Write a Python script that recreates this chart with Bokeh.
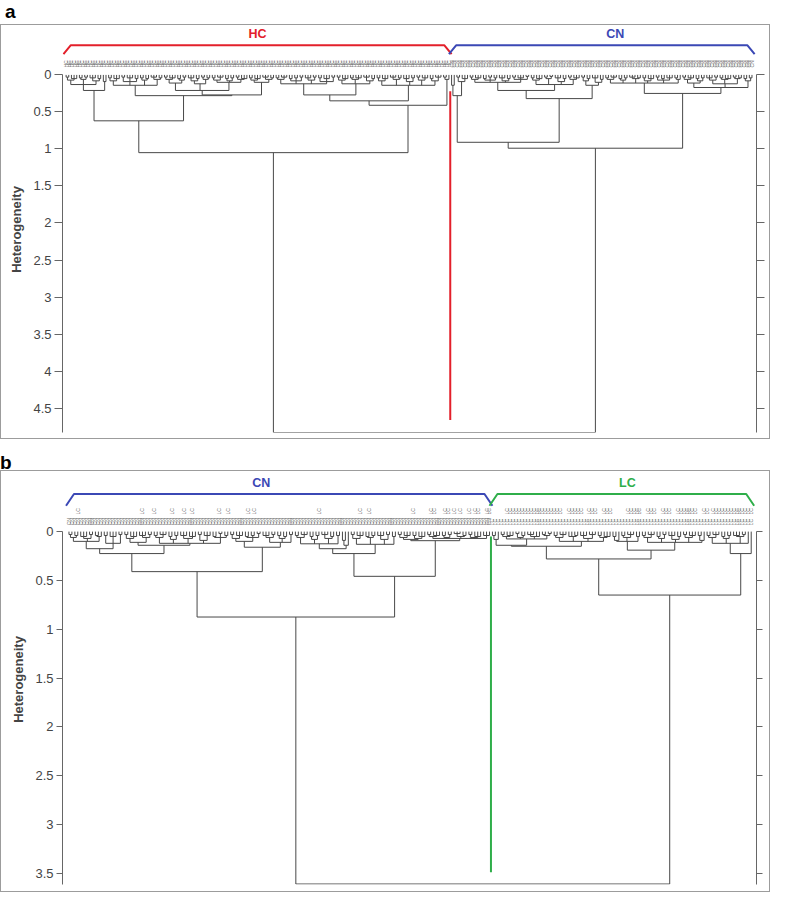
import re
import math
from bokeh.plotting import figure
from bokeh.models import Range1d, LinearAxis, FixedTicker, ColumnDataSource, Div
from bokeh.layouts import column
from bokeh.core.properties import value
from bokeh.embed import file_html
from bokeh.resources import INLINE

# ---------------- data: panel a (HC vs CN) ----------------
# sub-clusters written as Newick strings: x = leaf, number after ")" = heterogeneity of the merge
A1 = "(((x,x)0.03,(x,x,x)0.05)0.07,((x,x)0.04,(x,x)0.03)0.06,((x,x,x)0.04,(x,x)0.05)0.08)0.13"
A2 = "(x,x)0.09"
B1 = "(((x,x)0.04,(x,x,x)0.05)0.08,((x,x)0.03,(x,x,x)0.04,(x,x)0.05)0.09,((x,x)0.04,(x,x)0.05)0.07,((x,x,x)0.03,(x,x)0.04)0.06)0.14"
B2a = "((((x,x)0.03,(x,x,x)0.04)0.06,((x,x)0.05,(x,x)0.03)0.07)0.11,(((x,x,x)0.04,(x,x)0.05)0.08,((x,x)0.03,(x,x)0.04)0.06)0.12,(((x,x)0.04,(x,x,x)0.03)0.07,((x,x)0.05,(x,x)0.04)0.08,((x,x)0.03,(x,x,x)0.05)0.06)0.10)0.21"
B2b = "(((x,x)0.04,(x,x,x)0.05)0.07,((x,x,x)0.03,(x,x)0.04)0.06)0.10"
C1a = "(((x,x)0.04,(x,x,x)0.03)0.06,((x,x)0.05,(x,x)0.04,(x,x)0.03)0.08,((x,x,x)0.04,(x,x)0.03)0.07,((x,x)0.04,(x,x,x)0.05,(x,x)0.03)0.09)0.12"
C1b = "(((x,x)0.03,(x,x,x)0.05)0.07,((x,x)0.04,(x,x,x)0.04)0.06,((x,x,x)0.03,(x,x)0.05)0.08)0.12"
C2 = "(((x,x)0.04,(x,x,x)0.05)0.08,((x,x,x)0.03,(x,x)0.04)0.06,((x,x,x)0.05,(x,x)0.04)0.09,((x,x)0.03,(x,x,x)0.04)0.07,((x,x)0.05,(x,x,x)0.03)0.08)0.14"
C3 = "((x,x)0.03,x)0.06"
D = "((x,x)0.14,((x,x)0.03,(x,x,x)0.05)0.09)0.28"
E1a = "(((x,x)0.03,(x,x,x)0.04)0.06,((x,x)0.05,(x,x)0.03,(x,x)0.04)0.07,((x,x,x)0.04,(x,x)0.05)0.08,((x,x)0.03,(x,x,x)0.04,(x,x)0.02)0.06)0.10"
E1b = "(((x,x)0.04,(x,x,x)0.05)0.07,((x,x)0.03,(x,x)0.02)0.05,((x,x,x)0.04,(x,x)0.05)0.09,((x,x)0.03,(x,x,x)0.04)0.06)0.13"
E2 = "(((x,x)0.03,(x,x)0.05)0.08,((x,x,x)0.04,(x,x)0.06)0.10)0.14"
F1 = "(((x,x)0.04,(x,x,x)0.03)0.06,((x,x)0.05,(x,x)0.04)0.07,((x,x,x)0.03,(x,x)0.04)0.05,((x,x)0.04,(x,x,x)0.05)0.08,((x,x)0.03,(x,x)0.05,(x,x,x)0.04)0.07,((x,x)0.04,x)0.06)0.11"
F2 = "((((x,x)0.03,(x,x,x)0.04)0.06,((x,x)0.05,(x,x)0.04)0.08)0.11,(((x,x,x)0.04,(x,x)0.03)0.07,((x,x)0.04,(x,x,x)0.05)0.06,((x,x)0.03,(x,x)0.04)0.05)0.12,((x,x)0.05,(x,x)0.04)0.08)0.17"

HC_TREE = f"((({A1},{A2})0.21,({B1},({B2a},{B2b})0.27)0.28)0.62,((({C1a},{C1b})0.27,{C2})0.35,{C3})0.41)1.05"
CN_A_TREE = f"(({D},(({E1a},{E1b})0.21,{E2})0.32)0.91,({F1},{F2})0.25)0.99"
ROOT_A = 4.83
TREE_A = f"({HC_TREE},{CN_A_TREE}){ROOT_A}"

groups_a = ["HC", "CN"]
colors_a = ["#e3202b", "#3b48b5"]
label_x_a = [72.0, 206.6]
cut_a = [0.22, 4.66]          # red separator, top/bottom heterogeneity
ticks_a = [0, 0.5, 1, 1.5, 2, 2.5, 3, 3.5, 4, 4.5]
tick_labels_a = ["0", "0.5", "1", "1.5", "2", "2.5", "3", "3.5", "4", "4.5"]

# ---------------- data: panel b (CN vs LC) ----------------
G1a = "(((x,x)0.03,(x,x)0.04)0.06,((x,x,x)0.05,(x,x)0.03)0.07,((x,x)0.04,x)0.05)0.10"
G1b = "((x,x)0.04,(x,x,x)0.05,(x,x)0.03)0.12"
G2a = "(((x,x)0.03,(x,x,x)0.05)0.07,((x,x,x)0.04,(x,x)0.03)0.06)0.11"
G2b = "(((x,x)0.04,(x,x,x)0.03)0.06,((x,x)0.05,(x,x)0.04)0.08,((x,x,x)0.04,(x,x,x)0.05)0.07,((x,x)0.03,(x,x,x)0.04)0.09,((x,x)0.05,(x,x)0.02,(x,x)0.04)0.06)0.12"
H1 = "(((x,x)0.03,(x,x,x)0.04)0.07,((x,x)0.05,(x,x)0.04,(x,x)0.02)0.06)0.10"
H2 = "(((x,x,x)0.04,(x,x)0.03)0.06,((x,x)0.04,(x,x)0.05)0.07,(x,x)0.03)0.11"
I1a = "(((x,x)0.04,(x,x,x)0.03)0.06,((x,x)0.05,(x,x)0.04)0.08,((x,x,x)0.03,(x,x)0.05)0.07,(x,x)0.04)0.125"
I1b = "((x,x)0.09,x)0.14"
I2 = "(((x,x)0.03,(x,x,x)0.04)0.07,((x,x)0.05,(x,x)0.04)0.06,((x,x,x)0.04,(x,x)0.03)0.08,(x,x)0.05)0.13"
J1 = "(((x,x)0.03,(x,x,x)0.04)0.06,((x,x)0.04,(x,x,x)0.05)0.07)0.08"
J2 = "(((x,x)0.03,(x,x,x)0.04)0.05,((x,x)0.04,(x,x)0.03)0.06,((x,x,x)0.02,(x,x)0.04)0.05,((x,x)0.03,(x,x,x)0.05)0.06,(x,x,x)0.04)0.07"
K1a = "((x,x)0.04,x)0.08"
K1b = "(((x,x)0.03,(x,x,x)0.04)0.05,((x,x)0.02,(x,x)0.04)0.06,((x,x,x)0.03,(x,x)0.05)0.05,((x,x)0.03,(x,x)0.02)0.04)0.075"
K2 = "(((x,x)0.04,(x,x,x)0.03)0.06,((x,x)0.05,(x,x)0.04)0.05,((x,x,x)0.04,(x,x,x)0.03)0.07,((x,x)0.04,(x,x,x)0.05)0.06)0.10"
L1 = "(((x,x)0.05,x)0.09,((x,x)0.04,(x,x,x)0.03)0.06,(x,x)0.05)0.10"
L2 = "(((x,x)0.04,(x,x,x)0.03)0.06,((x,x)0.05,(x,x)0.03)0.07,((x,x,x)0.04,(x,x)0.05)0.08,((x,x)0.03,(x,x,x)0.04)0.06,((x,x)0.04,x)0.09)0.11"
M = "(((x,x)0.04,(x,x,x)0.03)0.06,((x,x)0.05,(x,x)0.04)0.07,((x,x,x)0.04,(x,x)0.03)0.05,x)0.12"

CN_B_TREE = (f"(((({G1a},{G1b})0.175,({G2a},{G2b})0.14)0.225,({H1},{H2})0.16)0.41,"
             f"((({I1a},{I1b})0.175,{I2})0.225,({J1},{J2})0.093)0.458)0.875")
LC_TREE = f"(((({K1a},{K1b})0.14,{K2})0.15,({L1},{L2})0.19)0.28,({M},x)0.225)0.65"
ROOT_B = 3.61
TREE_B = f"({CN_B_TREE},{LC_TREE}){ROOT_B}"

groups_b = ["CN", "LC"]
colors_b = ["#3b48b5", "#2fae4a"]
label_x_b = [65.4, 189.9]
cut_b = [0.05, 3.49]
ticks_b = [0, 0.5, 1, 1.5, 2, 2.5, 3, 3.5]
tick_labels_b = ["0", "0.5", "1", "1.5", "2", "2.5", "3", "3.5"]
# CN leaves (by position) carrying a second "LC" mark, and LC leaf ranges carrying it
lc_marks_cn = [3, 25, 29, 35, 39, 42, 51, 54, 61, 63, 85, 99, 102, 117, 123, 124, 128, 129,
               131, 133, 136, 138, 139, 142, 143]
lc_marks_lc = [(5, 23), (26, 30), (33, 35), (38, 40), (46, 50), (53, 55), (58, 60),
               (63, 69), (72, 73), (75, 88)]


# ---------------- helpers ----------------
def parse(s):
    pos = 0

    def node():
        nonlocal pos
        if s[pos] == "(":
            pos += 1
            kids = [node()]
            while s[pos] == ",":
                pos += 1
                kids.append(node())
            pos += 1  # ')'
            m = re.match(r"[0-9.]+", s[pos:])
            pos += len(m.group())
            return (float(m.group()), kids)
        pos += 1
        return None

    return node()


def count(t):
    if t is None:
        return 1
    return sum(count(k) for k in t[1])


def layout(t, counter, segs):
    if t is None:
        x = counter[0]
        counter[0] += 1
        return x, 0.0
    h, kids = t
    xs = []
    for k in kids:
        kx, kh = layout(k, counter, segs)
        segs.append((kx, kh, kx, h))
        xs.append(kx)
    segs.append((min(xs), h, max(xs), h))
    return (min(xs) + max(xs)) / 2.0, h


SANS = "Liberation Sans"


def make_panel(tree_str, sub_trees, groups, colors, label_x, cut, ticks, tick_labels,
               width, height, xr, yr, borders, tick_out, cut_color, lab_y, br_hi, br_lo,
               leaf_y, leaf_font, mark_dy=0.0, extra_marks=None):
    tree = parse(tree_str)
    segs = []
    layout(tree, [0], segs)
    sizes = [count(parse(s)) for s in sub_trees]

    p = figure(width=width, height=height, x_range=Range1d(*xr), y_range=Range1d(*yr),
               output_backend="svg", toolbar_location=None, x_axis_type=None,
               min_border_left=borders[0], min_border_right=borders[1],
               min_border_top=borders[2], min_border_bottom=borders[3])
    p.outline_line_color = None
    p.grid.visible = False
    p.styles = {"border": "1px solid #9c9c9c"}

    src = ColumnDataSource(dict(x0=[s[0] for s in segs], y0=[s[1] for s in segs],
                                x1=[s[2] for s in segs], y1=[s[3] for s in segs]))
    p.segment("x0", "y0", "x1", "y1", source=src, line_color="#484848", line_width=1)

    # separator
    p.segment(x0=[sizes[0] - 0.5], y0=[cut[0]], x1=[sizes[0] - 0.5], y1=[cut[1]],
              line_color=cut_color, line_width=2)

    # brackets + labels + leaf labels
    start = 0
    for g, c, lx, n in zip(groups, colors, label_x, sizes):
        l, r = start - 1.0, start + n
        p.line([l, l + 2.7, r - 2.7, r], [br_lo, br_hi, br_hi, br_lo], line_color=c, line_width=2)
        p.text(x=[lx], y=[lab_y], text=[g], text_color=c, text_font=value(SANS),
               text_font_style="bold", text_font_size="12.5px", text_align="center",
               text_baseline="middle")
        idx = list(range(start, start + n))
        p.text(x=idx, y=[leaf_y] * n, text=[g] * n, angle=math.pi / 2,
               text_color="#6a6a6a", text_font=value(SANS), text_font_size=leaf_font,
               text_align="left", text_baseline="middle")
        start += n
    if extra_marks is not None:
        xs = extra_marks
        p.text(x=xs, y=[leaf_y + mark_dy] * len(xs), text=["LC"] * len(xs),
               angle=math.pi / 2, text_color="#6a6a6a", text_font=value(SANS),
               text_font_size=leaf_font, text_align="left", text_baseline="middle")

    ya = p.yaxis[0]
    ya.ticker = FixedTicker(ticks=ticks)
    ya.major_label_overrides = {t: s for t, s in zip(ticks, tick_labels)}
    ya.bounds = (0, yr[0])
    ya.axis_label = "Heterogeneity"
    ya.axis_label_text_font = SANS
    ya.axis_label_text_font_style = "bold"
    ya.axis_label_text_font_size = "13px"
    ya.axis_label_standoff = 6
    ya.major_label_text_font = SANS
    ya.major_label_text_font_size = "13px"
    ya.major_label_standoff = 3
    ya.major_tick_out = tick_out
    ya.major_tick_in = 0
    ya.minor_tick_line_color = None
    ya.axis_line_color = "#666666"
    ya.major_tick_line_color = "#666666"

    ra = LinearAxis(ticker=FixedTicker(ticks=ticks), bounds=(0, yr[0]))
    ra.major_label_overrides = {t: "" for t in ticks}
    ra.major_tick_out = tick_out
    ra.major_tick_in = 0
    ra.minor_tick_line_color = None
    ra.axis_line_color = "#666666"
    ra.major_tick_line_color = "#666666"
    p.add_layout(ra, "right")
    return p


pa = make_panel(TREE_A, [HC_TREE, CN_A_TREE], groups_a, colors_a, label_x_a, cut_a,
                ticks_a, tick_labels_a, 770, 415, (-1.36, 259.7), (ROOT_A, -0.654),
                (61, 10, 1, 8), 8, "#e3202b", -0.55, -0.40, -0.28, -0.10, "5px")

lc_marks = list(lc_marks_cn)
n_cn_b = count(parse(CN_B_TREE))
for a, b in lc_marks_lc:
    lc_marks += [n_cn_b + i for i in range(a, b + 1)]
pb = make_panel(TREE_B, [CN_B_TREE, LC_TREE], groups_b, colors_b, label_x_b, cut_b,
                ticks_b, tick_labels_b, 770, 422, (-2.2, 233.8), (3.615, -0.585),
                (53, 15, 3, 9), 6, "#2fae4a", -0.495, -0.385, -0.265, -0.065, "5px",
                mark_dy=-0.11, extra_marks=lc_marks)

label_style = {"font-family": "Liberation Sans, Arial, sans-serif", "font-weight": "bold",
               "font-size": "19px", "line-height": "14px"}
da = Div(text="a", width=60, height=14, styles=label_style)
db = Div(text="b", width=60, height=14, styles=label_style, margin=(17, 0, 0, 0))

layout_all = column(da, pa, db, pb, spacing=0)
open("out.html", "w").write(file_html(layout_all, INLINE))
